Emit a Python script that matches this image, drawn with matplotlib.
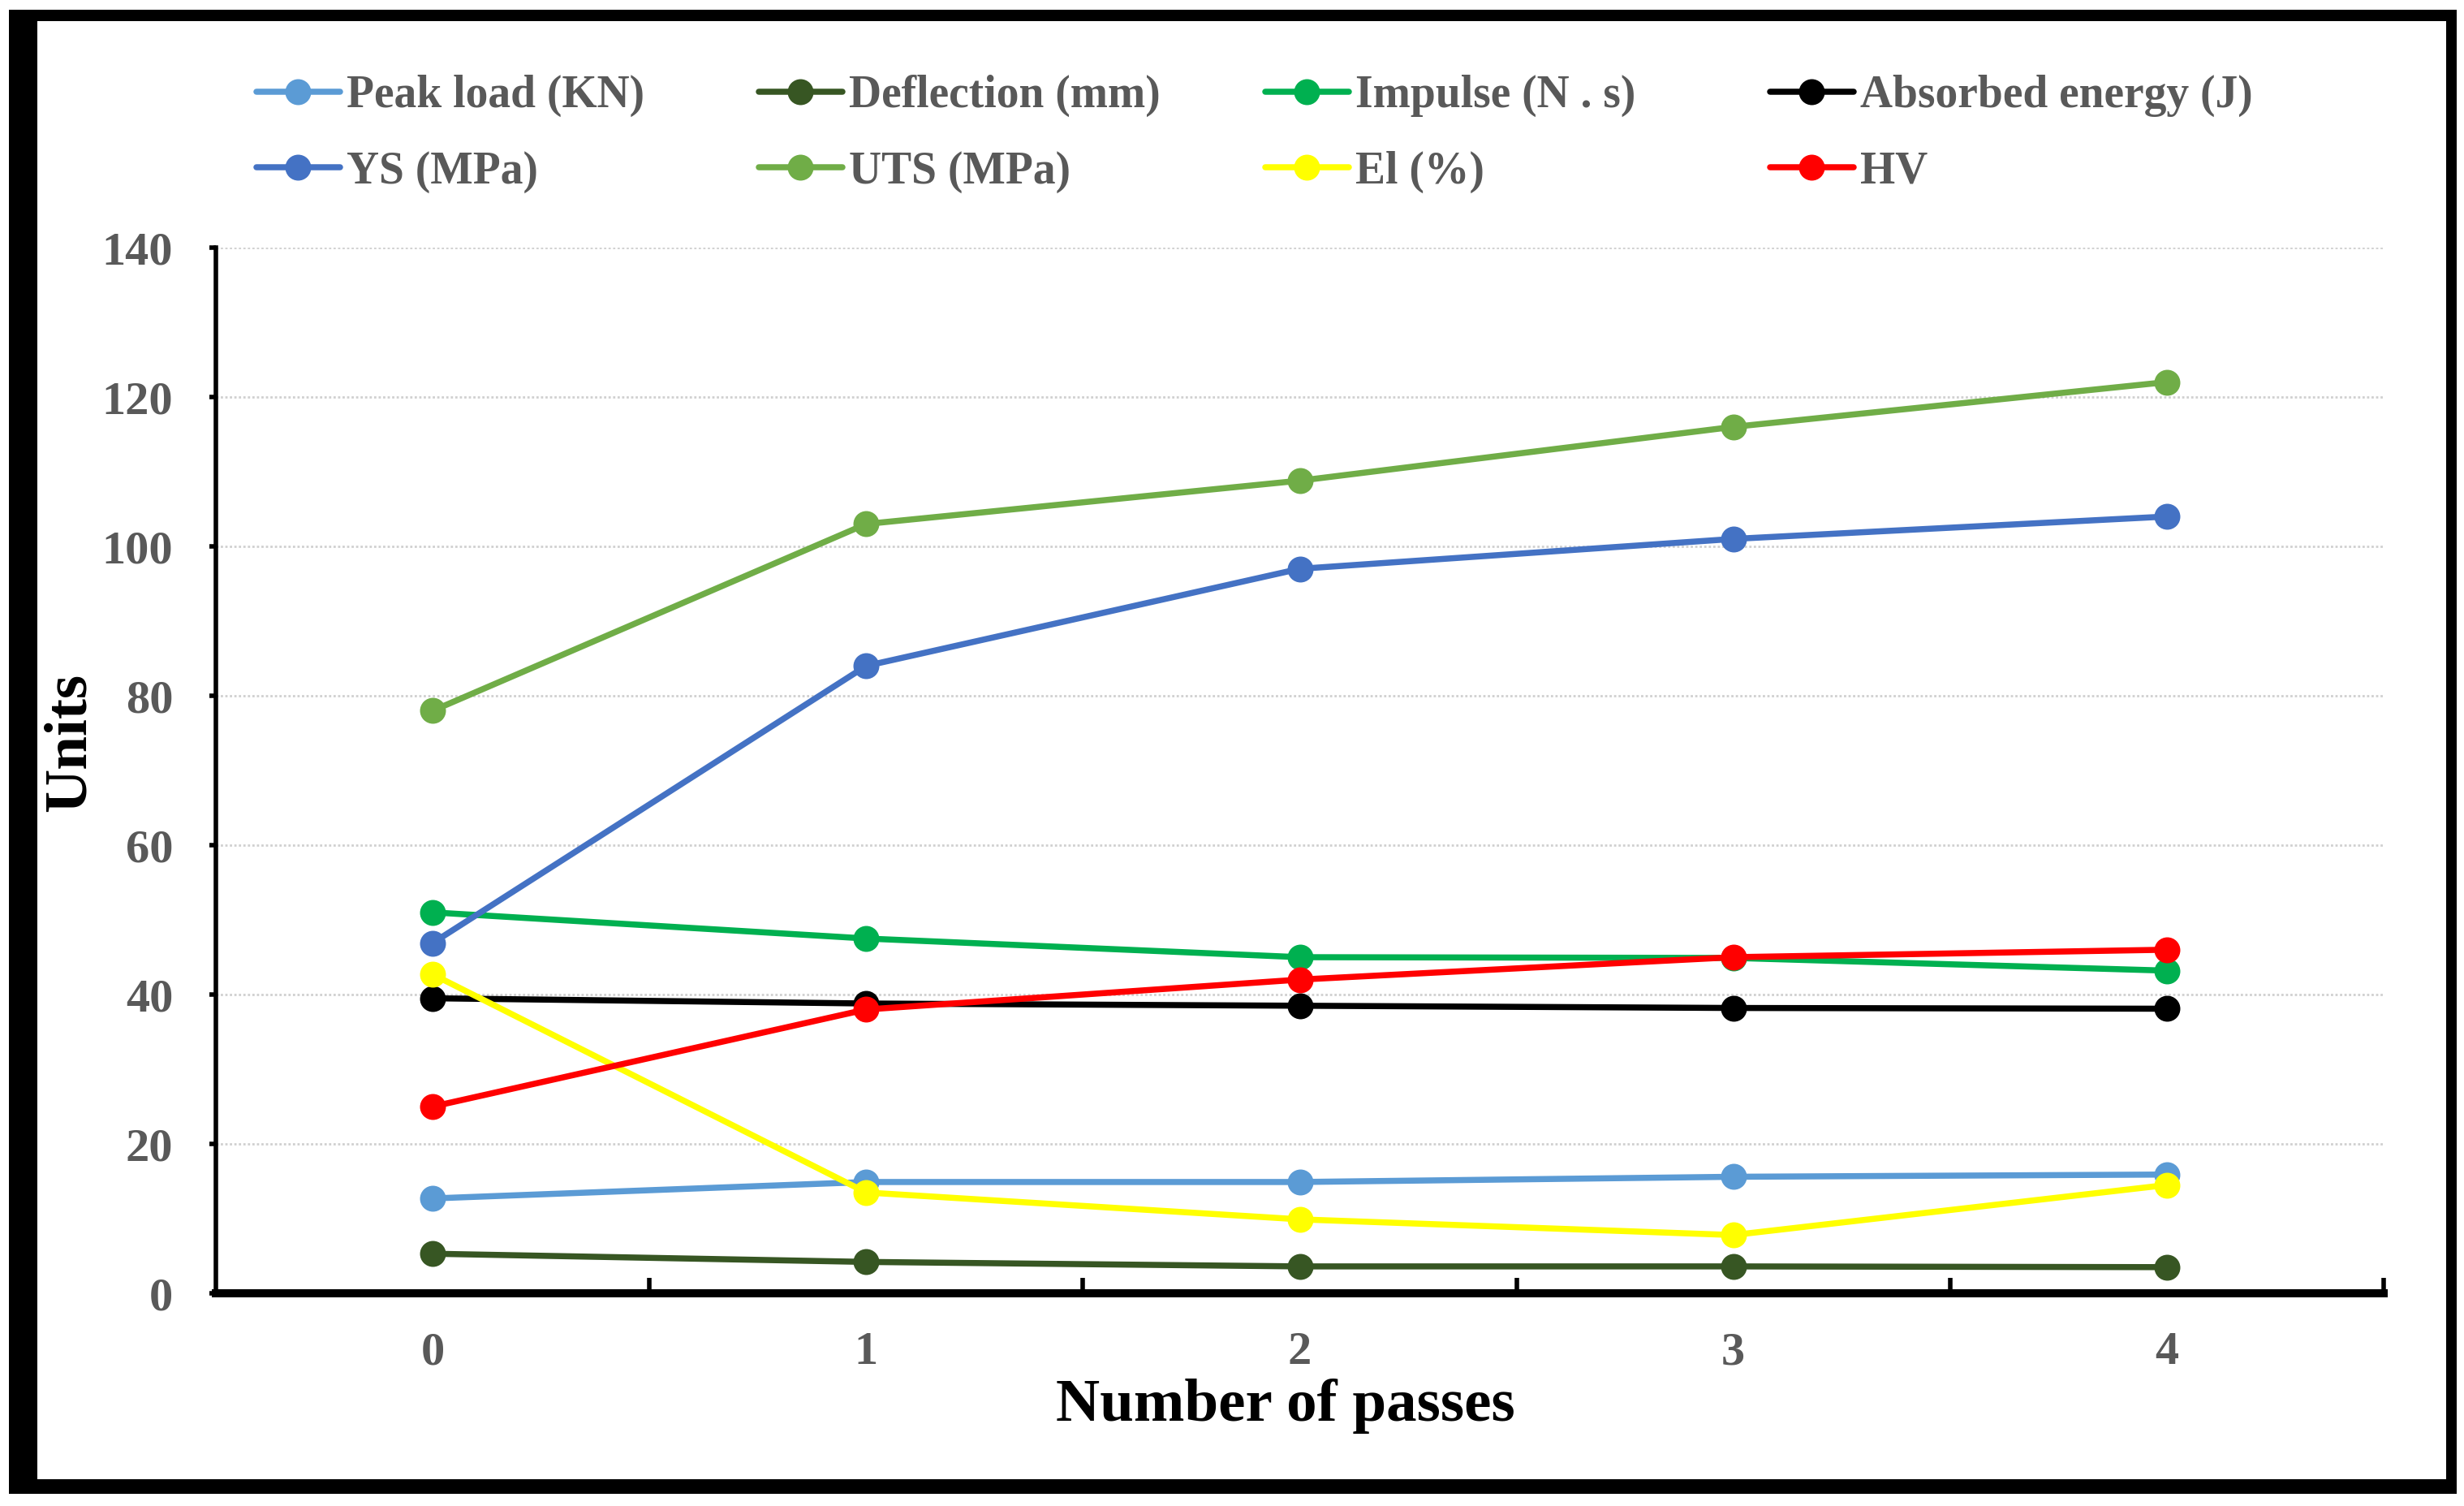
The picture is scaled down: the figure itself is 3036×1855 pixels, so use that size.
import numpy as np
import matplotlib
matplotlib.use('Agg')
import matplotlib.pyplot as plt
from matplotlib.patches import Rectangle

passes = [0, 1, 2, 3, 4]

peak_load = [12.7, 14.9, 14.9, 15.6, 15.9]
deflection = [5.3, 4.2, 3.6, 3.6, 3.5]
impulse = [51.0, 47.5, 45.0, 44.9, 43.2]
absorbed = [39.5, 38.8, 38.5, 38.2, 38.1]
ys = [46.9, 84.0, 97.0, 101.0, 104.0]
uts = [78.0, 103.0, 108.8, 116.0, 122.0]
el = [42.7, 13.5, 9.9, 7.8, 14.5]
hv = [25.0, 38.0, 42.0, 45.0, 46.0]

names = ['Peak load (KN)', 'Deflection (mm)', 'Impulse (N . s)', 'Absorbed energy (J)',
         'YS (MPa)', 'UTS (MPa)', 'El (%)', 'HV']
series = [peak_load, deflection, impulse, absorbed, ys, uts, el, hv]
colors = ['#5B9BD5', '#375623', '#00B050', '#000000',
          '#4472C4', '#70AD47', '#FFFF00', '#FF0000']

plt.rcParams['font.family'] = ['Liberation Serif', 'DejaVu Serif']
plt.rcParams['font.weight'] = 'bold'

W, H = 3036, 1855
fig = plt.figure(figsize=(W / 200, H / 200), dpi=200)

ax = fig.add_axes([266 / W, 1 - 1593 / H, (2937 - 266) / W, (1593 - 305) / H])

handles = []
for name, vals, c in zip(names, series, colors):
    h, = ax.plot(passes, vals, color=c, lw=2.7, marker='o', markersize=10.5,
                 label=name, solid_capstyle='round')
    handles.append(h)

ax.set_xlim(-0.5, 4.5)
ax.set_ylim(0, 140)
ax.set_yticks(np.arange(0, 141, 20))
ax.set_xticks(passes)
ax.set_xticks(np.arange(0.5, 4.6, 1.0), minor=True)
ax.grid(axis='y', color='#D0D0D0', linestyle=(0, (1, 1)), lw=1.0)
ax.set_axisbelow(True)

for s in ['top', 'right']:
    ax.spines[s].set_visible(False)
ax.spines['left'].set_linewidth(2.0)
ax.spines['bottom'].set_linewidth(3.6)
ax.spines['bottom'].set_zorder(5)

ax.tick_params(axis='x', which='major', length=0, pad=17, labelsize=21,
               labelcolor='#595959')
ax.tick_params(axis='x', which='minor', direction='in', length=7, width=2.0)
ax.tick_params(axis='y', which='major', direction='out', length=3, width=2.0,
               pad=16, labelsize=21, labelcolor='#595959')
for lab in ax.get_xticklabels() + ax.get_yticklabels():
    lab.set_fontweight('bold')

fig.text(1584 / W, 1 - 1732 / H, 'Number of passes', ha='center',
         va='center', fontsize=27, fontweight='bold', color='black')
fig.text(87 / W, 1 - 914 / H, 'Units', ha='center', va='center', rotation=90,
         fontsize=27, fontweight='bold', color='black')

# legend: four equal columns, two rows
col_x = [316, 935, 1559, 2181]
for j, x in enumerate(col_x):
    idx = [j, j + 4]
    leg = fig.legend([handles[i] for i in idx], [names[i] for i in idx],
                     loc='upper left', bbox_to_anchor=(x / W, 1 - 92 / H),
                     ncol=1, frameon=False, fontsize=20, handlelength=1.85,
                     handletextpad=0.15, labelspacing=0.75,
                     borderpad=0, borderaxespad=0)
    for t in leg.get_texts():
        t.set_color('#595959')
        t.set_fontweight('bold')

# outer black frame
bands = [(11, 12, 46, 1840), (11, 12, 3027, 26), (3014, 12, 3027, 1840),
         (11, 1822, 3027, 1840)]
for x0, y0, x1, y1 in bands:
    fig.patches.append(Rectangle((x0 / W, 1 - y1 / H), (x1 - x0) / W, (y1 - y0) / H,
                                 transform=fig.transFigure, color='black', lw=0))

fig.savefig('out.png', dpi=200)
